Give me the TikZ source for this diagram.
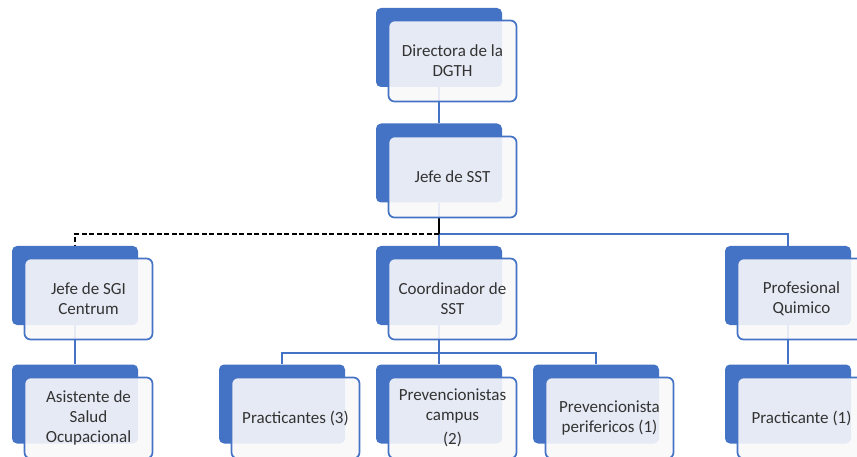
\documentclass[tikz,border=0pt]{standalone}
\usepackage{fontspec}
\setmainfont{Carlito}
\usetikzlibrary{backgrounds}
\definecolor{orgblue}{HTML}{4472C4}
\definecolor{paleface}{HTML}{F8F8FA}
\tikzset{
  back/.style={rectangle, rounded corners=5pt, fill=orgblue, draw=none,
    minimum width=126pt, minimum height=79pt, inner sep=0pt},
  front/.style={rectangle, rounded corners=6pt, fill=paleface, fill opacity=0.9,
    text opacity=1, draw=orgblue, line width=1.7pt, text=black!80,
    minimum width=128pt, minimum height=81pt, inner sep=0pt, align=center,
    font=\fontsize{17}{20}\selectfont},
  link/.style={draw=orgblue, line width=1.8pt},
  aux/.style={draw=black, line width=1.5pt, dash pattern=on 5pt off 2.5pt}
}
\begin{document}
\begin{tikzpicture}[x=1pt, y=-1pt]
      \useasboundingbox (0,0) rectangle (857,457);
      \draw
        (439,47.5) node[back] (dirB){}
        (439,163) node[back] (jefB){}
        (75,285.5) node[back] (sgiB){}
        (439,285.5) node[back] (cooB){}
        (788,285.5) node[back] (proB){}
        (75,404) node[back] (asiB){}
        (282,404) node[back] (praB){}
        (439,404) node[back] (camB){}
        (596,404) node[back] (perB){}
        (788,404) node[back] (pr1B){};
      \draw
        (452.5,61) node[front] (dir){Directora de la\\DGTH}
        (452.5,177) node[front] (jef){Jefe de SST}
        (88.5,299) node[front] (sgi){Jefe de SGI\\Centrum}
        (452.5,299) node[front] (coo){Coordinador de\\SST}
        (801.5,299) node[front] (pro){Profesional\\Quimico}
        (88.5,418) node[front] (asi){Asistente de\\Salud\\Ocupacional}
        (295.5,418) node[front] (pra){Practicantes (3)}
        (452.5,418) node[front] (cam){Prevencionistas\\campus\\[4pt](2)}
        (609.5,418) node[front] (per){Prevencionista\\perifericos (1)}
        (801.5,418) node[front] (pr1){Practicante (1)};
      \coordinate (bus1) at (439,234);
      \coordinate (bus2) at (439,353);
      \begin{scope}[on background layer]
        \draw[link] (dirB.south) to (jefB.north);
        \draw[link] (jefB.south) to (cooB.north);
        \draw[link] (bus1) -| (proB.north);
        \draw[aux, solid] (jefB.south |- jef.south) to (bus1);
        \draw[aux] (bus1) -| (sgiB.north);
        \draw[link] (sgiB.south) to (asiB.north);
        \draw[link] (cooB.south) to (camB.north);
        \draw[link] (bus2) -| (praB.north);
        \draw[link] (bus2) -| (perB.north);
        \draw[link] (proB.south) to (pr1B.north);
      \end{scope}
    \end{tikzpicture}
\end{document}
